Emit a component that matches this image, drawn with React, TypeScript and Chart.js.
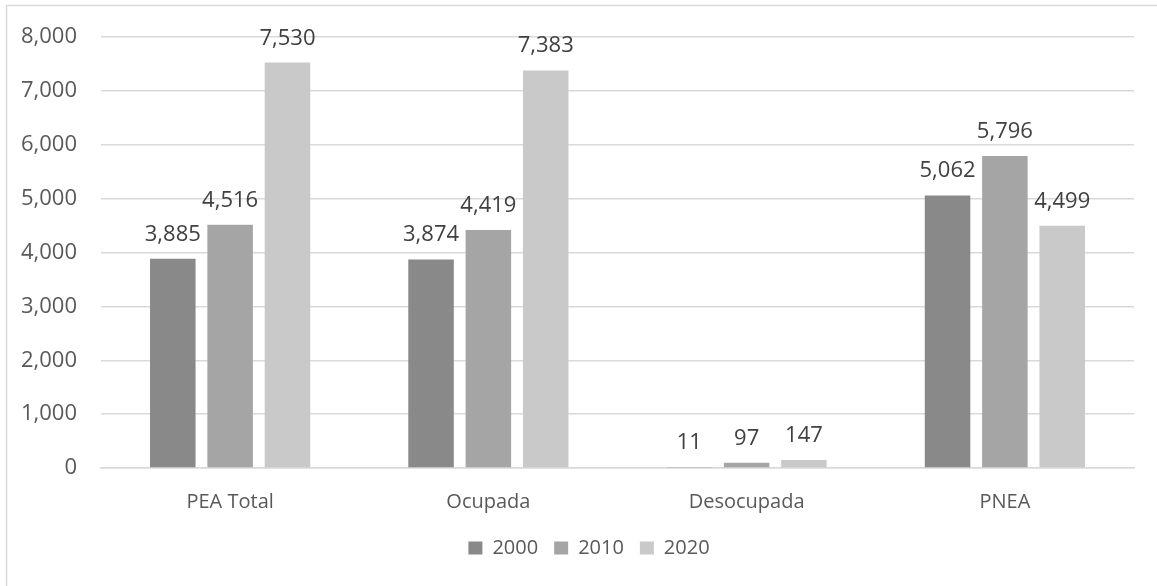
import React, { useEffect, useRef } from "react";
import { Chart, registerables } from "chart.js";

Chart.register(...registerables);

const categories = ["PEA Total", "Ocupada", "Desocupada", "PNEA"];
const seriesNames = ["2000", "2010", "2020"];
const values2000 = [3885, 3874, 11, 5062];
const values2010 = [4516, 4419, 97, 5796];
const values2020 = [7530, 7383, 147, 4499];
const seriesColors = ["#898989", "#a5a5a5", "#c9c9c9"];
const yTicks = [0, 1000, 2000, 3000, 4000, 5000, 6000, 7000, 8000];

const FONT = "'Open Sans', sans-serif";
const TEXT = "#595959";

const fmt = (v: number) => v.toLocaleString("en-US");

const frameAndLabels = {
  id: "frameAndLabels",
  afterLayout(chart: any) {
    const lg = chart.legend;
    if (lg) {
      lg.left += 22;
      lg.right += 22;
      (lg.legendHitBoxes || []).forEach((h: any) => {
        h.left += 22;
      });
    }
  },
  beforeDraw(chart: any) {
    const ctx = chart.ctx;
    ctx.save();
    ctx.fillStyle = "#ffffff";
    ctx.fillRect(0, 0, chart.width, chart.height);
    ctx.strokeStyle = "#d9d9d9";
    ctx.lineWidth = 1.5;
    ctx.strokeRect(6.5, 5.5, chart.width + 20, chart.height + 20);
    ctx.restore();
  },
  afterDatasetsDraw(chart: any) {
    const ctx = chart.ctx;
    ctx.save();
    ctx.font = `22px ${FONT}`;
    ctx.fillStyle = "#404040";
    ctx.textAlign = "center";
    ctx.textBaseline = "alphabetic";
    chart.data.datasets.forEach((ds: any, i: number) => {
      const meta = chart.getDatasetMeta(i);
      meta.data.forEach((bar: any, j: number) => {
        ctx.fillText(fmt(ds.data[j]), bar.x, bar.y - 18);
      });
    });
    ctx.restore();
  },
};

export default function App() {
  const ref = useRef<HTMLCanvasElement>(null);
  useEffect(() => {
    document.body.style.margin = "0";
    const data = [values2000, values2010, values2020];
    const chart = new Chart(ref.current as HTMLCanvasElement, {
      type: "bar",
      data: {
        labels: categories,
        datasets: seriesNames.map((name, i) => ({
          label: name,
          data: data[i],
          backgroundColor: seriesColors[i],
          categoryPercentage: 0.666,
          barPercentage: 0.794,
        })),
      },
      options: {
        animation: false,
        responsive: false,
        devicePixelRatio: 1,
        layout: { padding: { left: 0, right: 23, top: 33, bottom: 18 } },
        plugins: {
          legend: {
            position: "bottom",
            labels: {
              font: { family: FONT, size: 20 },
              color: TEXT,
              boxWidth: 14,
              boxHeight: 13,
              padding: 16,
            },
          },
          tooltip: { enabled: false },
        },
        scales: {
          x: {
            grid: { display: false },
            border: { display: true, color: "#d9d9d9", width: 1.5 },
            ticks: { font: { family: FONT, size: 20 }, color: TEXT, padding: 14 },
            afterFit: (s: any) => {
              s.height = 54;
            },
          },
          y: {
            min: 0,
            max: 8000,
            afterBuildTicks: (s: any) => {
              s.ticks = yTicks.map((v) => ({ value: v }));
            },
            grid: { color: "#d9d9d9", lineWidth: 1.5, drawTicks: false },
            border: { display: false },
            ticks: {
              font: { family: FONT, size: 22 },
              color: TEXT,
              padding: 24,
              callback: (v: any) => fmt(Number(v)),
            },
            afterFit: (s: any) => {
              s.width = 101;
            },
          },
        },
      },
      plugins: [frameAndLabels],
    });
    return () => chart.destroy();
  }, []);
  return (
    <div style={{ width: 1157, height: 586 }}>
      <canvas ref={ref} width={1157} height={586} />
    </div>
  );
}
